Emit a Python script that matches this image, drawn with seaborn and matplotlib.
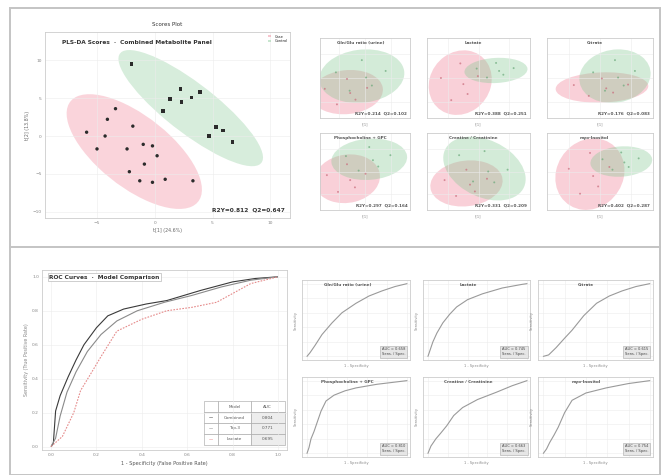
import numpy as np
import pandas as pd
import matplotlib
matplotlib.use("Agg")
import matplotlib.pyplot as plt
from matplotlib.patches import Ellipse, Rectangle
from matplotlib.lines import Line2D
import seaborn as sns

sns.set_theme(style="whitegrid")
plt.rcParams['font.family'] = ['DejaVu Sans']

# ---------------------------------------------------------------- data
groups = ["Case", "Control"]
markers = ["Gln/Glu ratio (urine)", "Lactate", "Citrate",
           "Phosphocholine + GPC", "Creatine / Creatinine", "myo-Inositol"]

# combined-panel score plot
case_x = [-3.4, -4.1, -1.9, -4.3, -5.0, -2.4, -1.0, -0.2, 0.2, -0.9, -2.2, -1.3, -0.2, 0.9, 3.3, -5.9]
case_y = [3.6, 2.2, 1.3, 0.0, -1.7, -1.7, -1.1, -1.3, -2.6, -3.7, -4.7, -5.9, -6.1, -5.7, -5.9, 0.5]
ctrl_x = [-2.0, 2.2, 3.2, 2.3, 0.7, 5.3, 4.7, 6.7, 3.9, 5.9, 1.3]
ctrl_y = [9.5, 6.2, 5.1, 4.5, 3.3, 1.2, 0.0, -0.8, 5.8, 0.7, 4.9]

# single-marker score plots: (case_x, case_y, ctrl_x, ctrl_y)
single_scores = [
    ([-7.6, -5.3, -3.4, -1.8, 0.4, -2.8], [-2.3, -5.6, -0.2, -4.6, -2.1, -3.2],
     [-5.5, -2.9, -0.6, 1.3, 3.9, 0.2], [1.2, -2.7, 3.8, -1.6, 1.5, 0.1]),
    ([-6.2, -4.5, -3.0, -1.8, -0.1, -2.5], [0.0, -4.7, 3.1, -3.4, 0.4, -1.3],
     [-0.3, 1.4, 2.9, 4.1, 5.8, 3.4], [2.0, 0.1, 3.2, 0.7, 2.1, 1.5]),
    ([-4.2, -1.8, 0.3, 2.1, 4.5, 1.0], [-1.5, -3.8, -0.1, -3.1, -1.4, -2.2],
     [-1.1, 0.8, 2.4, 3.8, 5.6, 2.9], [1.2, -2.7, 3.8, -1.6, 1.5, 0.1]),
    ([-7.2, -5.1, -3.4, -1.9, 0.1, -2.8], [-0.8, -4.5, 1.6, -3.5, -0.5, -1.9],
     [-3.6, -1.2, 0.8, 2.5, 4.8, 1.5], [3.4, 0.2, 5.4, 1.1, 3.6, 2.5]),
    ([-5.6, -3.7, -2.0, -0.6, 1.4, -1.4], [-1.9, -5.4, 0.4, -4.4, -1.6, -2.9],
     [-3.2, -0.9, 1.0, 2.6, 4.8, 1.6], [3.6, -2.2, 4.5, -2.4, 0.4, 0.0]),
    ([-5.0, -3.2, -1.6, -0.3, 1.5, -1.1], [0.6, -4.9, 4.1, -3.3, 1.0, -1.0],
     [0.4, 2.0, 3.4, 4.6, 6.2, 3.9], [2.7, 0.4, 4.2, 1.0, 2.9, 2.0]),
]
single_q2 = ["R2Y=0.214  Q2=0.102", "R2Y=0.388  Q2=0.251", "R2Y=0.176  Q2=0.083",
             "R2Y=0.297  Q2=0.164", "R2Y=0.331  Q2=0.209", "R2Y=0.402  Q2=0.287"]

# ROC curves for the combined panel
roc_models = ["Combined", "Top-3", "Lactate"]
roc_fpr = [
    [0, 0.01, 0.02, 0.04, 0.075, 0.11, 0.145, 0.2, 0.25, 0.32, 0.42, 0.51, 0.66, 0.8, 0.9, 1.0],
    [0, 0.02, 0.04, 0.07, 0.11, 0.16, 0.22, 0.29, 0.38, 0.5, 0.62, 0.75, 0.88, 1.0],
    [0, 0.05, 0.1, 0.13, 0.18, 0.22, 0.29, 0.4, 0.51, 0.62, 0.73, 0.88, 1.0],
]
roc_tpr = [
    [0, 0.02, 0.21, 0.3, 0.41, 0.51, 0.6, 0.7, 0.77, 0.81, 0.84, 0.86, 0.92, 0.97, 0.99, 1.0],
    [0, 0.05, 0.18, 0.32, 0.44, 0.56, 0.66, 0.74, 0.8, 0.85, 0.89, 0.94, 0.98, 1.0],
    [0, 0.06, 0.2, 0.33, 0.44, 0.53, 0.68, 0.75, 0.8, 0.82, 0.85, 0.96, 1.0],
]

# ROC curves for single markers
single_fpr = [
    [0, 0.03, 0.08, 0.15, 0.25, 0.35, 0.49, 0.62, 0.75, 0.88, 1.0],
    [0, 0.02, 0.05, 0.09, 0.15, 0.22, 0.29, 0.4, 0.55, 0.75, 0.95, 1.0],
    [0, 0.05, 0.12, 0.2, 0.27, 0.38, 0.5, 0.62, 0.74, 0.87, 1.0],
    [0, 0.02, 0.04, 0.07, 0.1, 0.14, 0.19, 0.27, 0.38, 0.49, 0.7, 1.0],
    [0, 0.03, 0.08, 0.13, 0.19, 0.26, 0.35, 0.5, 0.69, 0.85, 1.0],
    [0, 0.03, 0.06, 0.1, 0.14, 0.2, 0.27, 0.4, 0.59, 0.8, 1.0],
]
single_tpr = [
    [0, 0.05, 0.15, 0.3, 0.46, 0.6, 0.73, 0.83, 0.9, 0.96, 1.0],
    [0, 0.08, 0.2, 0.32, 0.46, 0.58, 0.68, 0.78, 0.86, 0.94, 0.99, 1.0],
    [0, 0.02, 0.12, 0.25, 0.36, 0.56, 0.73, 0.83, 0.9, 0.96, 1.0],
    [0, 0.08, 0.2, 0.3, 0.42, 0.58, 0.72, 0.8, 0.86, 0.9, 0.95, 1.0],
    [0, 0.1, 0.2, 0.28, 0.38, 0.52, 0.63, 0.74, 0.84, 0.93, 1.0],
    [0, 0.06, 0.15, 0.25, 0.36, 0.56, 0.73, 0.83, 0.9, 0.96, 1.0],
]

# ---------------------------------------------------------------- styling
W, H = 663, 475
PINK = "#f07f93"
GREEN = "#86c995"
GRID = "#ececec"
SPINE = "#cccccc"
TXT = "#333333"

fig = plt.figure(figsize=(W / 100, H / 100), dpi=100)
fig.patch.set_facecolor("white")


def rect(x0, y0, x1, y1):
    """Pixel box (top-left origin) -> figure-fraction axes rectangle."""
    return [x0 / W, 1 - y1 / H, (x1 - x0) / W, (y1 - y0) / H]


def style_axes(ax, fs=3.2):
    ax.set_facecolor("white")
    ax.grid(True, color=GRID, lw=0.4)
    for s in ax.spines.values():
        s.set_color(SPINE)
        s.set_linewidth(0.6)
    ax.tick_params(labelsize=fs, colors="#888888", length=1.2, width=0.4, pad=1)


def conf_ellipse(ax, xs, ys, color, alpha):
    xs = np.asarray(xs, float)
    ys = np.asarray(ys, float)
    vals, vecs = np.linalg.eigh(np.cov(xs, ys))
    order = vals.argsort()[::-1]
    vals, vecs = vals[order], vecs[:, order]
    angle = np.degrees(np.arctan2(vecs[1, 0], vecs[0, 0]))
    k = np.sqrt(5.991)  # 95 % chi-square, 2 dof
    ax.add_patch(Ellipse((xs.mean(), ys.mean()), 2 * k * np.sqrt(vals[0]),
                         2 * k * np.sqrt(vals[1]), angle=angle,
                         facecolor=color, edgecolor="none", alpha=alpha, zorder=0))


def score_frame(cx, cy, tx, ty):
    return pd.DataFrame({
        "x": list(cx) + list(tx),
        "y": list(cy) + list(ty),
        "group": [groups[0]] * len(cx) + [groups[1]] * len(tx),
    })


# ---------------------------------------------------------------- panel frame
fig.add_artist(Rectangle((10 / W, 0), 650 / W, 1 - 8 / H, transform=fig.transFigure,
                         fill=False, edgecolor="#c4c4c4", lw=1.4))
fig.add_artist(Line2D([10 / W, 660 / W], [1 - 247 / H] * 2, transform=fig.transFigure,
                      color="#c4c4c4", lw=1.4))

# ---------------------------------------------------------------- main score plot
ax = fig.add_axes(rect(45, 32, 290, 218))
style_axes(ax)
conf_ellipse(ax, case_x, case_y, PINK, 0.33)
conf_ellipse(ax, ctrl_x, ctrl_y, GREEN, 0.33)
df = score_frame(case_x, case_y, ctrl_x, ctrl_y)
sns.scatterplot(data=df, x="x", y="y", style="group", markers={"Case": "o", "Control": "s"},
                color="#2b2b2b", s=6, linewidth=0, ax=ax, legend=False, zorder=3)
ax.set_xlim(-9.5, 11.7)
ax.set_ylim(-10.8, 13.7)
ax.set_xticks([-5, 0, 5, 10])
ax.set_yticks([-10, -5, 0, 5, 10])
ax.set_xlabel("t[1] (24.6%)", fontsize=3.4, color="#666666", labelpad=2)
ax.set_ylabel("t[2] (13.8%)", fontsize=3.4, color="#666666", labelpad=2)
ax.set_title("Scores Plot", fontsize=4, color=TXT, pad=4)
ax.text(0.07, 0.955, "PLS-DA Scores  ·  Combined Metabolite Panel", transform=ax.transAxes,
        fontsize=4.2, fontweight="bold", color=TXT, va="top")
ax.text(0.98, 0.03, "R2Y=0.812  Q2=0.647", transform=ax.transAxes,
        fontsize=4.2, fontweight="bold", color=TXT, ha="right", va="bottom")
handles = [Rectangle((0, 0), 1, 1, fc=PINK, alpha=0.45, ec="none"),
           Rectangle((0, 0), 1, 1, fc=GREEN, alpha=0.45, ec="none")]
ax.legend(handles, groups, loc="upper right", fontsize=2.6, frameon=False,
          handlelength=1, handleheight=0.6, borderpad=0.2, labelspacing=0.2)

# ---------------------------------------------------------------- single-marker score plots
cols = [(320, 410), (427, 530), (547, 653)]
rows = [(38, 118), (133, 210)]
for i, (cx, cy, tx, ty) in enumerate(single_scores):
    x0, x1 = cols[i % 3]
    y0, y1 = rows[i // 3]
    sa = fig.add_axes(rect(x0, y0, x1, y1))
    style_axes(sa, fs=2.4)
    conf_ellipse(sa, cx, cy, PINK, 0.36)
    conf_ellipse(sa, tx, ty, GREEN, 0.36)
    sdf = score_frame(cx, cy, tx, ty)
    sns.scatterplot(data=sdf, x="x", y="y", hue="group", palette=["#c96b7b", "#6aa97a"],
                    s=2, linewidth=0, ax=sa, legend=False, zorder=3, alpha=0.7)
    sa.set_xlim(-8.5, 8.5)
    sa.set_ylim(-8.5, 8.5)
    sa.set_xticks([-5, 0, 5])
    sa.set_yticks([-5, 0, 5])
    sa.set_xticklabels([])
    sa.set_yticklabels([])
    sa.set_xlabel("t[1]", fontsize=2.6, color="#888888", labelpad=1)
    sa.set_ylabel("")
    sa.text(0.45, 0.96, markers[i], transform=sa.transAxes, fontsize=3.0,
            fontweight="bold", color="#555555", ha="center", va="top")
    sa.text(0.97, 0.03, single_q2[i], transform=sa.transAxes, fontsize=3.0,
            fontweight="bold", color="#555555", ha="right", va="bottom")

# ---------------------------------------------------------------- main ROC
rc = fig.add_axes(rect(42, 270, 287, 450))
style_axes(rc)
roc_colors = ["#3a3a3a", "#8a8a8a", "#e58a8a"]
roc_dash = [(1, 0), (1, 0), (1.5, 1.2)]
aucs = []
for m, f, t, c, d in zip(roc_models, roc_fpr, roc_tpr, roc_colors, roc_dash):
    rdf = pd.DataFrame({"fpr": f, "tpr": t})
    sns.lineplot(data=rdf, x="fpr", y="tpr", sort=False, estimator=None, color=c,
                 lw=0.8, ax=rc)
    rc.lines[-1].set_dashes(d)
    aucs.append(np.trapezoid(t, f))
rc.set_xlim(-0.04, 1.04)
rc.set_ylim(-0.02, 1.04)
rc.set_xticks(np.linspace(0, 1, 6))
rc.set_yticks(np.linspace(0, 1, 6))
rc.set_xlabel("1 - Specificity (False Positive Rate)", fontsize=3.6, color="#555555", labelpad=3)
rc.set_ylabel("Sensitivity (True Positive Rate)", fontsize=3.4, color="#888888", labelpad=2)
rc.text(0.03, 0.975, "ROC Curves  ·  Model Comparison", transform=rc.transAxes,
        fontsize=4.2, fontweight="bold", color=TXT, va="top",
        bbox=dict(boxstyle="square,pad=0.3", fc="white", ec="#bbbbbb", lw=0.5))
cell_text = [["—", m, f"{a:.3f}"] for m, a in zip(roc_models, aucs)]
tab = rc.table(cellText=cell_text, colLabels=["", "Model", "AUC"],
               colWidths=[0.18, 0.4, 0.42],
               bbox=[0.66, 0.03, 0.33, 0.24], cellLoc="center")
tab.auto_set_font_size(False)
tab.set_fontsize(3)
for (r, c), cell in tab.get_celld().items():
    cell.set_edgecolor("#a0a0a0")
    cell.set_linewidth(0.4)
    cell.get_text().set_color("#555555")
    if r > 0 and c == 0:
        cell.get_text().set_color(roc_colors[r - 1])
        cell.get_text().set_fontweight("bold")
    if c == 2 and r > 0:
        cell.set_facecolor("#ededed")

# ---------------------------------------------------------------- single-marker ROC
rcols = [(302, 410), (423, 530), (538, 653)]
rrows = [(280, 360), (377, 457)]
for i in range(6):
    x0, x1 = rcols[i % 3]
    y0, y1 = rrows[i // 3]
    ra = fig.add_axes(rect(x0, y0, x1, y1))
    style_axes(ra, fs=2.4)
    sdf = pd.DataFrame({"fpr": single_fpr[i], "tpr": single_tpr[i]})
    sns.lineplot(data=sdf, x="fpr", y="tpr", sort=False, estimator=None,
                 color="#9a9a9a", lw=0.8, ax=ra)
    auc = np.trapezoid(single_tpr[i], single_fpr[i])
    ra.set_xlim(-0.05, 1.03)
    ra.set_ylim(-0.05, 1.05)
    ra.set_xticks(np.linspace(0, 1, 6))
    ra.set_yticks(np.linspace(0, 1, 6))
    ra.set_xticklabels([])
    ra.set_yticklabels([])
    ra.set_xlabel("1 - Specificity", fontsize=2.6, color="#888888", labelpad=1)
    ra.set_ylabel("Sensitivity", fontsize=2.6, color="#888888", labelpad=1)
    ra.text(0.42, 0.96, markers[i], transform=ra.transAxes, fontsize=3.0,
            fontweight="bold", color="#555555", ha="center", va="top")
    ra.text(0.96, 0.05, f"AUC = {auc:.3f}\nSens. / Spec.", transform=ra.transAxes,
            fontsize=2.6, color="#444444", ha="right", va="bottom",
            bbox=dict(boxstyle="square,pad=0.5", fc="#e6e6e6", ec="#aaaaaa", lw=0.4))

fig.savefig("out.png", dpi=100, facecolor="white")
